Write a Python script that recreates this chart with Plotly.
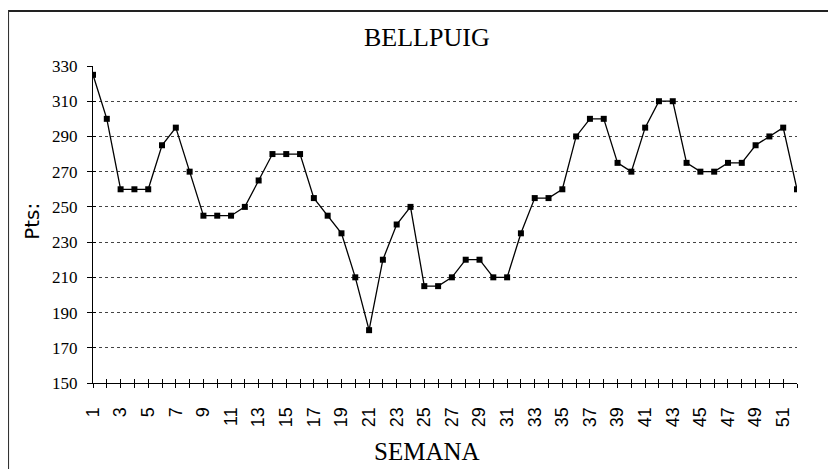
import plotly.graph_objects as go

# ---- data ----
title_text = "BELLPUIG"
x_title = "SEMANA"
y_title = "Pts:"
weeks = [1, 2, 3, 4, 5, 6, 7, 8, 9, 10, 11, 12, 13, 14, 15, 16, 17, 18, 19, 20,
         21, 22, 23, 24, 25, 26, 27, 28, 29, 30, 31, 32, 33, 34, 35, 36, 37, 38, 39, 40,
         41, 42, 43, 44, 45, 46, 47, 48, 49, 50, 51, 52]
points = [325, 300, 260, 260, 260, 285, 295, 270, 245, 245,
          245, 250, 265, 280, 280, 280, 255, 245, 235, 210,
          180, 220, 240, 250, 205, 205, 210, 220, 220, 210,
          210, 235, 255, 255, 260, 290, 300, 300, 275, 270,
          295, 310, 310, 275, 270, 270, 275, 275, 285, 290,
          295, 260]
y_ticks = [150, 170, 190, 210, 230, 250, 270, 290, 310, 330]
x_labels = [str(w) if w % 2 == 1 else "" for w in weeks]

# ---- layout geometry (page pixels; the page body adds an 8px offset) ----
OFF = 8
W, H = 836 - OFF, 469 - OFF
L, R, T, B = 93 - OFF, 797.5 - OFF, 66 - OFF, 383.5 - OFF
pw, ph = R - L, B - T


def px(x):
    return (x - OFF - L) / pw


def py(y):
    return (B - (y - OFF)) / ph


fig = go.Figure()
fig.add_trace(go.Scatter(
    x=weeks, y=points, mode="lines+markers",
    line=dict(color="black", width=1.3),
    marker=dict(symbol="square", size=6, color="black"),
    showlegend=False, hoverinfo="x+y"))
# invisible trace on overlay axes (for crossing tick marks)
fig.add_trace(go.Scatter(x=[weeks[0]], y=[points[0]], xaxis="x2", yaxis="y2",
                         mode="markers", marker=dict(opacity=0), showlegend=False,
                         hoverinfo="skip"))

xr = [weeks[0], weeks[-1]]
yr = [y_ticks[0], y_ticks[-1]]

fig.update_layout(
    width=W, height=H,
    margin=dict(l=L, r=W - R, t=T, b=H - B, autoexpand=False),
    paper_bgcolor="white", plot_bgcolor="white",
    xaxis=dict(range=xr, tickmode="array", tickvals=weeks, ticktext=x_labels,
               tickangle=-90, ticks="outside", ticklen=4, tickwidth=1, tickcolor="black",
               showline=True, linecolor="black", linewidth=1.3, showgrid=False,
               zeroline=False, ticklabelstandoff=12,
               tickfont=dict(family="Liberation Sans, Arial, sans-serif", size=18, color="black")),
    xaxis2=dict(range=xr, overlaying="x", anchor="y", side="bottom", tickmode="array",
                tickvals=weeks, ticks="inside", ticklen=4, tickwidth=1, tickcolor="black",
                showticklabels=False, showgrid=False, zeroline=False, showline=False),
    yaxis=dict(range=yr, tickmode="array", tickvals=y_ticks,
               ticks="outside", ticklen=5, tickwidth=1, tickcolor="black",
               showline=True, linecolor="black", linewidth=1.3,
               showgrid=True, gridcolor="#444", gridwidth=1, griddash="dot",
               zeroline=False, ticklabelstandoff=6,
               tickfont=dict(family="Liberation Serif, Times New Roman, serif", size=17, color="black")),
    yaxis2=dict(range=yr, overlaying="y", anchor="x", side="left", tickmode="array",
                tickvals=y_ticks, ticks="inside", ticklen=3, tickwidth=1, tickcolor="black",
                showticklabels=False, showgrid=False, zeroline=False, showline=False),
    annotations=[
        dict(text=title_text, x=px(427), y=py(37), xref="paper", yref="paper",
             xanchor="center", yanchor="middle", showarrow=False,
             font=dict(family="Liberation Serif, Times New Roman, serif", size=26, color="black")),
        dict(text=x_title, x=px(427), y=py(452), xref="paper", yref="paper",
             xanchor="center", yanchor="middle", showarrow=False,
             font=dict(family="Liberation Serif, Times New Roman, serif", size=25, color="black")),
        dict(text=y_title, x=px(32), y=py(222), xref="paper", yref="paper",
             xanchor="center", yanchor="middle", showarrow=False, textangle=-90,
             font=dict(family="DejaVu Sans, Arial, sans-serif", size=20, color="black")),
    ],
    shapes=[
        dict(type="line", xref="paper", yref="paper", x0=px(8), x1=px(836), y0=py(11), y1=py(11),
             line=dict(color="#222", width=2)),
        dict(type="line", xref="paper", yref="paper", x0=px(8), x1=px(8), y0=py(11), y1=py(470),
             line=dict(color="#333", width=2)),
    ],
)

fig.write_html("out.html")
